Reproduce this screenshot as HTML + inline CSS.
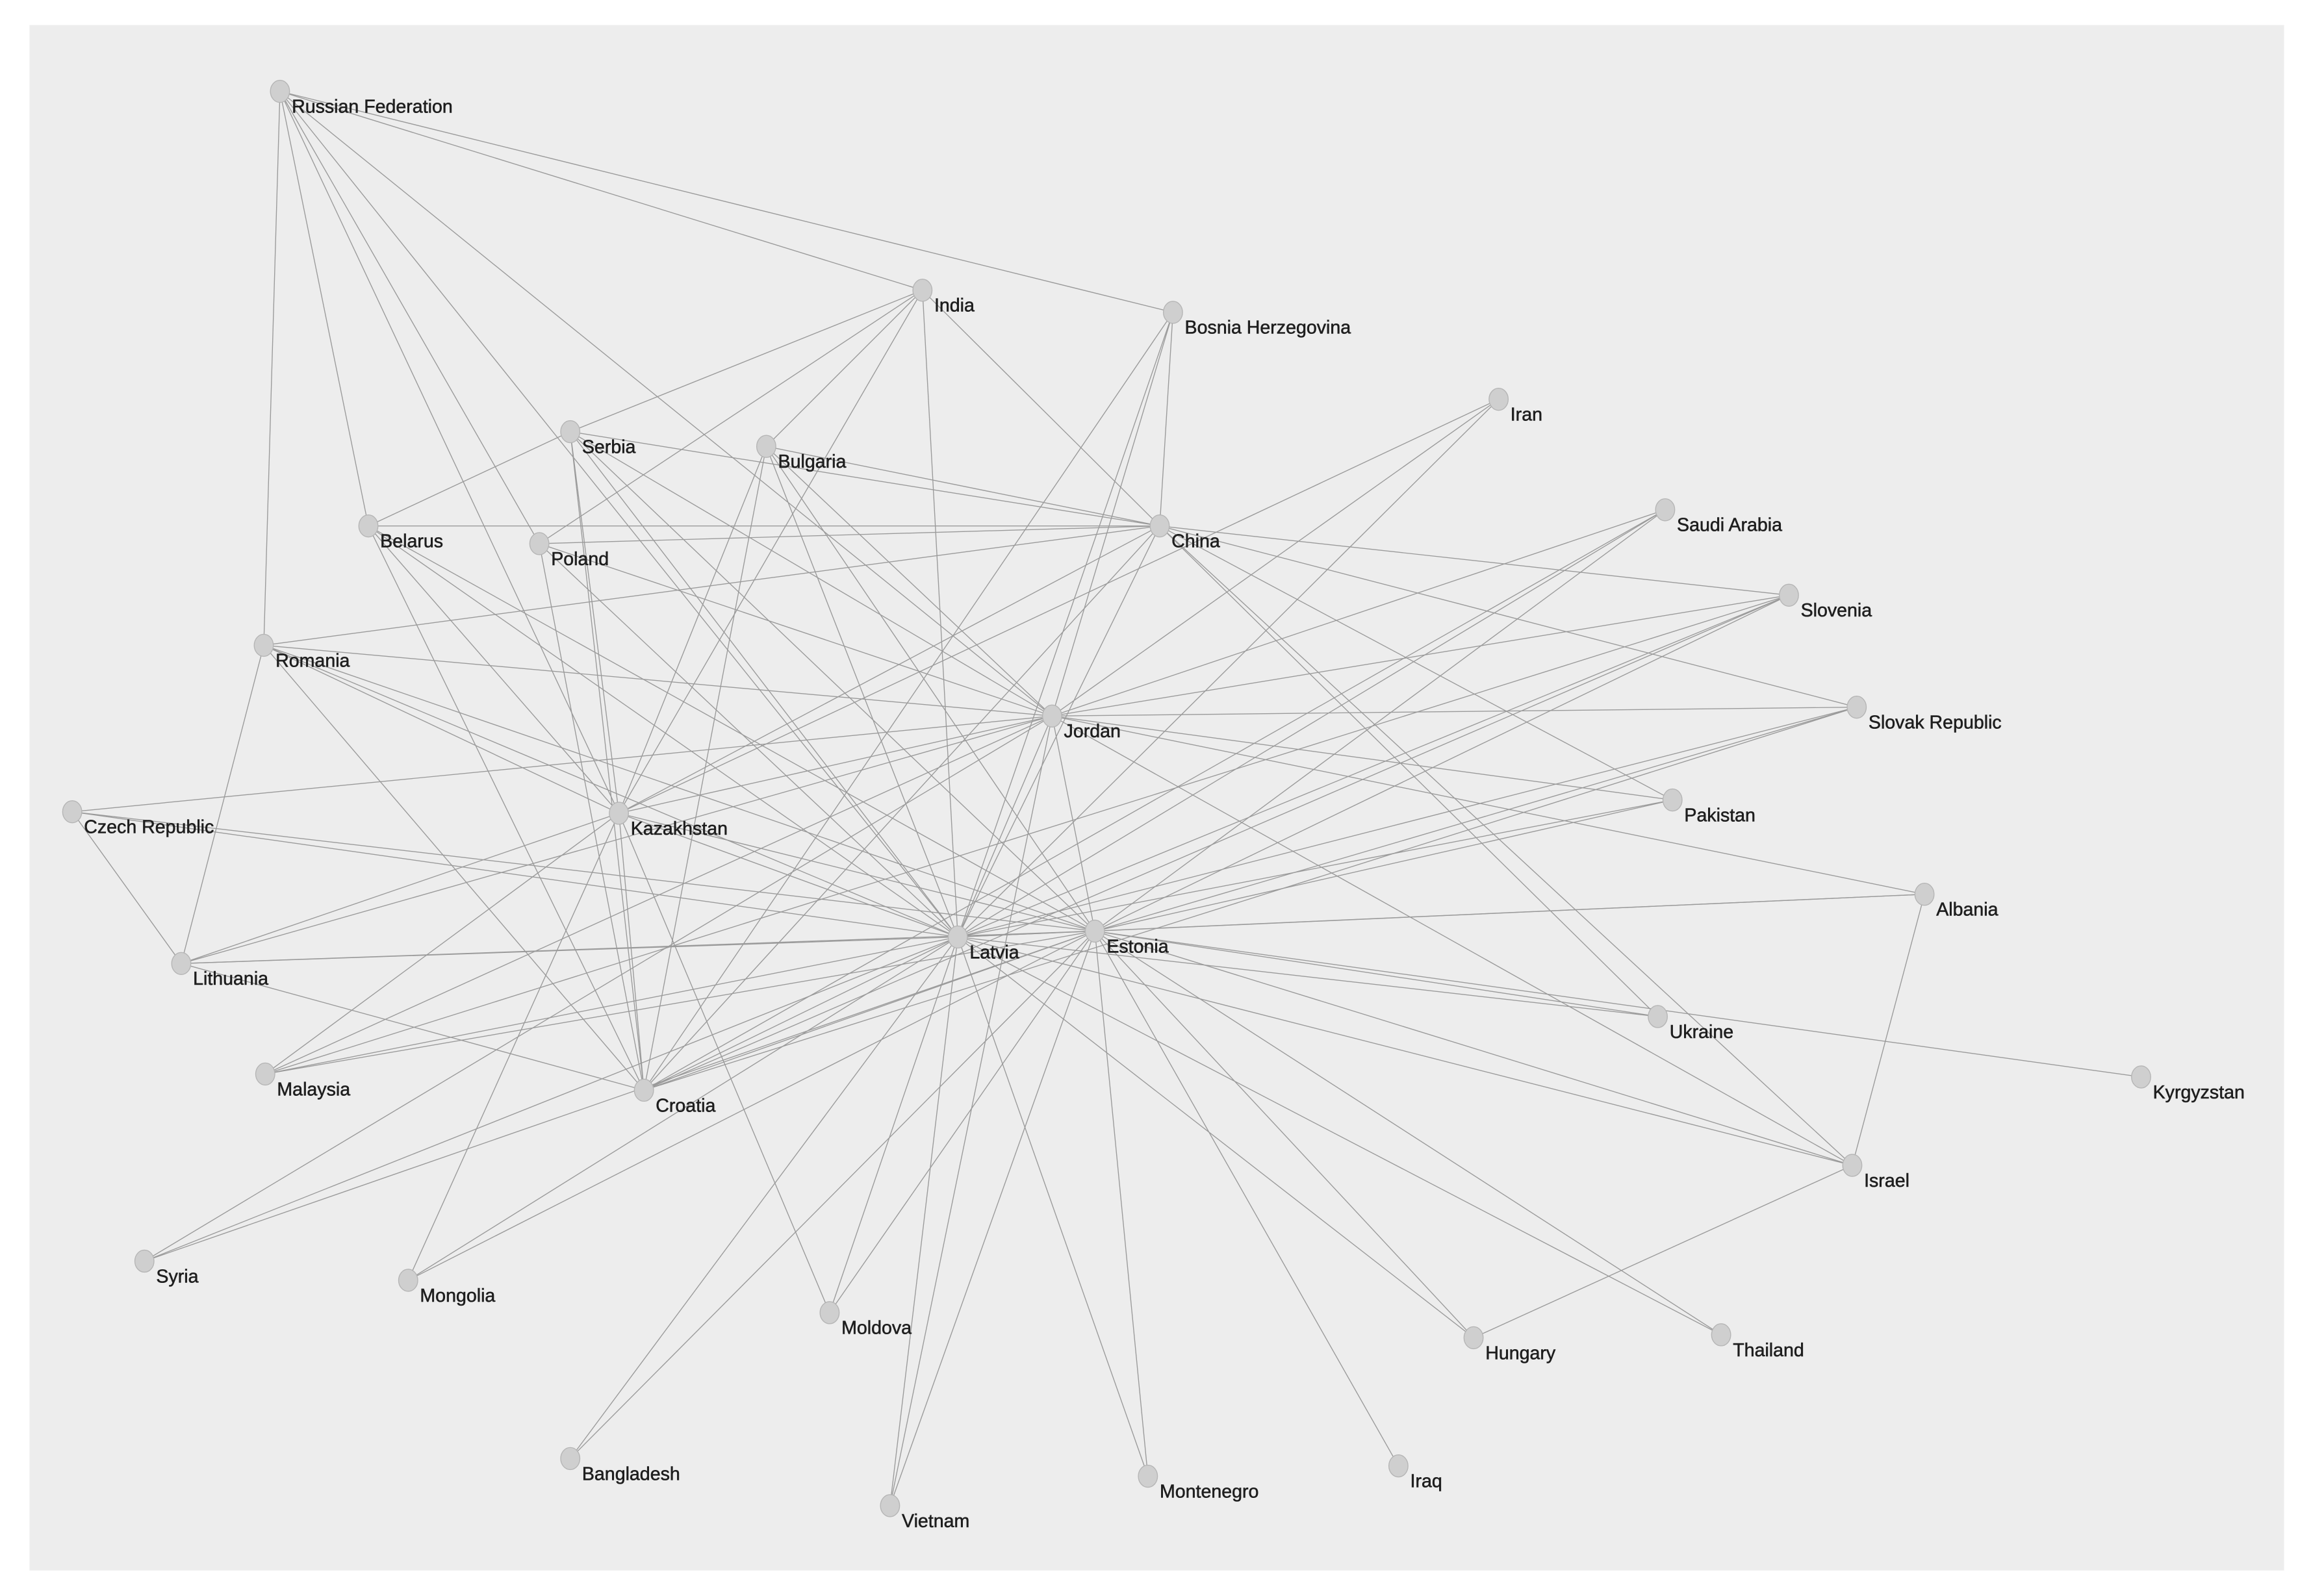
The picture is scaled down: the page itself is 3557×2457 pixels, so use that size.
<!DOCTYPE html>
<html><head><meta charset="utf-8"><style>
html,body{margin:0;padding:0;background:#fff;}
svg{display:block;}
text{font-family:"Liberation Sans",Arial,sans-serif;font-size:12.6px;fill:#1e1e1e;stroke:#1e1e1e;stroke-width:0.25px;}
</style></head><body>
<svg width="3557" height="2457" viewBox="0 0 1568.3 1083.3" xmlns="http://www.w3.org/2000/svg">
<rect x="0" y="0" width="1568.3" height="1083.3" fill="#fff"/>
<rect x="20" y="17" width="1530" height="1049" fill="#ededed"/>
<g id="edges" stroke="#9a9a9a" stroke-width="0.6" fill="none"></g>
<g id="nodes"></g>
</svg>
<script>
const N={
"Russian Federation":[190,62],"India":[626,197],"Bosnia Herzegovina":[796,212],"Iran":[1017,271],
"Serbia":[387,293],"Bulgaria":[520,303],"Saudi Arabia":[1130,346],"Belarus":[250,357],"Poland":[366,369],
"China":[787,357],"Slovenia":[1214,404],"Romania":[179,438],"Jordan":[714,486],"Slovak Republic":[1260,480],
"Czech Republic":[49,551],"Kazakhstan":[420,552],"Pakistan":[1135,543],"Albania":[1306,607],"Latvia":[650,636],
"Estonia":[743,632],"Lithuania":[123,654],"Ukraine":[1125,690],"Kyrgyzstan":[1453,731],"Malaysia":[180,729],
"Croatia":[437,740],"Israel":[1257,791],"Syria":[98,856],"Mongolia":[277,869],"Moldova":[563,891],
"Hungary":[1000,908],"Thailand":[1168,906],"Bangladesh":[387,990],"Montenegro":[779,1002],"Iraq":[949,995],"Vietnam":[604,1022]};
const E={
"Russian Federation":["Romania","Belarus","Poland","Kazakhstan","Latvia","Jordan","India","Bosnia Herzegovina"],
"India":["Serbia","Poland","Bulgaria","Latvia","China","Kazakhstan"],
"Bosnia Herzegovina":["Latvia","Jordan","China","Croatia"],
"Iran":["Jordan","Latvia","Kazakhstan"],
"Serbia":["Belarus","China","Jordan","Latvia","Estonia","Kazakhstan","Croatia"],
"Bulgaria":["China","Kazakhstan","Latvia","Estonia","Jordan","Croatia"],
"Saudi Arabia":["Jordan","Latvia","Croatia","Estonia"],
"Belarus":["China","Estonia","Latvia","Kazakhstan","Croatia"],
"Poland":["China","Croatia","Latvia","Jordan"],
"China":["Romania","Slovenia","Slovak Republic","Pakistan","Ukraine","Israel","Kazakhstan","Croatia","Latvia"],
"Slovenia":["Jordan","Latvia","Estonia","Croatia","Malaysia"],
"Romania":["Jordan","Lithuania","Kazakhstan","Latvia","Estonia","Croatia"],
"Jordan":["Czech Republic","Slovak Republic","Pakistan","Albania","Israel","Kazakhstan","Latvia","Estonia","Malaysia","Lithuania","Syria","Vietnam"],
"Slovak Republic":["Estonia","Latvia","Croatia"],
"Czech Republic":["Lithuania","Latvia","Estonia"],
"Kazakhstan":["Lithuania","Malaysia","Croatia","Moldova","Mongolia","Estonia","Latvia"],
"Pakistan":["Latvia","Estonia"],
"Albania":["Israel","Latvia","Estonia"],
"Latvia":["Lithuania","Estonia","Ukraine","Malaysia","Croatia","Syria","Moldova","Vietnam","Montenegro","Hungary","Thailand","Israel","Bangladesh","Mongolia"],
"Estonia":["Lithuania","Ukraine","Kyrgyzstan","Malaysia","Syria","Croatia","Mongolia","Bangladesh","Vietnam","Montenegro","Iraq","Hungary","Thailand","Israel","Moldova"],
"Lithuania":["Croatia"],
"Israel":["Hungary"]};
const ns="http://www.w3.org/2000/svg";
const eg=document.getElementById("edges"),ng=document.getElementById("nodes");
for(const a in E)for(const b of E[a]){const l=document.createElementNS(ns,"line");
l.setAttribute("x1",N[a][0]);l.setAttribute("y1",N[a][1]);l.setAttribute("x2",N[b][0]);l.setAttribute("y2",N[b][1]);eg.appendChild(l);}
for(const k in N){const [x,y]=N[k];const c=document.createElementNS(ns,"ellipse");
c.setAttribute("cx",x);c.setAttribute("cy",y);c.setAttribute("rx",6.5);c.setAttribute("ry",7.5);
c.setAttribute("fill","#cfcfcf");c.setAttribute("stroke","#b5b5b5");c.setAttribute("stroke-width","0.6");ng.appendChild(c);
const t=document.createElementNS(ns,"text");t.setAttribute("x",x+8);t.setAttribute("y",y+14.5);t.textContent=k;ng.appendChild(t);}
</script>
</body></html>
